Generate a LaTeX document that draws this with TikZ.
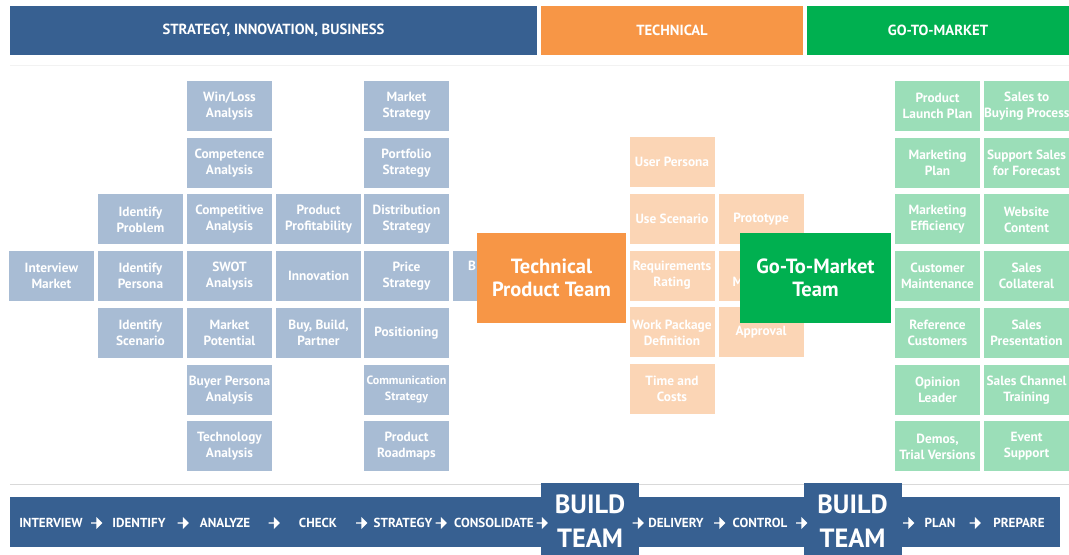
\documentclass[tikz,border=0pt]{standalone}
\usepackage{fontspec}
\setmainfont{PT Sans}
\usetikzlibrary{positioning,shapes.arrows}

\definecolor{hdrblue}{HTML}{376091}
\definecolor{cellblue}{HTML}{A8BCD4}
\definecolor{hdrorange}{HTML}{F79646}
\definecolor{cellorange}{HTML}{FBD5B5}
\definecolor{hdrgreen}{HTML}{00B050}
\definecolor{cellgreen}{HTML}{9BDEB8}

\tikzset{
  cell/.style={rectangle, minimum width=63.75pt, minimum height=37.5pt, inner sep=0pt, align=center, text=white, font=\bfseries\fontsize{10}{12}\selectfont},
  bluecell/.style={cell, fill=cellblue},
  orangecell/.style={cell, fill=cellorange},
  greencell/.style={cell, fill=cellgreen},
  header/.style={rectangle, minimum height=36.75pt, inner sep=0pt, text=white, font=\bfseries\fontsize{11}{13}\selectfont},
  teambox/.style={rectangle, minimum height=67.5pt, inner sep=0pt, align=center, text=white, font=\bfseries\fontsize{15.4}{17.5}\selectfont},
  stage/.style={inner sep=0pt, text=white, font=\bfseries\fontsize{9.8}{11}\selectfont},
  buildbox/.style={rectangle, fill=hdrblue, minimum width=73.5pt, minimum height=57pt, inner sep=0pt, align=center, text=white, font=\bfseries\fontsize{19.8}{26}\selectfont},
  flowtip/.style={single arrow, fill=white, draw=none, minimum height=8.5pt, minimum width=9pt, single arrow head extend=2pt, inner sep=0pt}
}

\begin{document}
\begin{tikzpicture}[x=0.75pt, y=-0.75pt, node distance=4.65pt and 2.625pt]
\useasboundingbox (0,0) rectangle (1069,555);
% headers
\node[header, fill=hdrblue, minimum width=395.25pt] (hstrat) at (273.5,30.5) {STRATEGY, INNOVATION, BUSINESS};
\node[header, fill=hdrorange, minimum width=196.5pt] (htech) at (672,30.5) {TECHNICAL};
\node[header, fill=hdrgreen, minimum width=196.5pt] (hgtm) at (938,30.5) {GO-TO-MARKET};
\draw[black!5] (10,65) -- (1069,65);

% strategy, innovation, business
\node[bluecell] (winloss) at (229.5,106) {Win/Loss\\Analysis};
\node[bluecell, below=of winloss] (compet) {Competence\\Analysis};
\node[bluecell, below=of compet] (compan) {Competitive\\Analysis};
\node[bluecell, below=of compan] (swot) {SWOT\\Analysis};
\node[bluecell, below=of swot] (mpot) {Market\\Potential};
\node[bluecell, below=of mpot] (buyer) {Buyer Persona\\Analysis};
\node[bluecell, below=of buyer] (techan) {Technology\\Analysis};
\node[bluecell, left=of compan] (idprob) {Identify\\Problem};
\node[bluecell, left=of swot] (idpers) {Identify\\Persona};
\node[bluecell, left=of mpot] (idscen) {Identify\\Scenario};
\node[bluecell, left=of idpers] (interview) {Interview\\Market};
\node[bluecell, right=of compan] (profit) {Product\\Profitability};
\node[bluecell, right=of swot] (innov) {Innovation};
\node[bluecell, right=of mpot] (bbp) {Buy, Build,\\Partner};
\node[bluecell] (mstrat) at (406.5,106) {Market\\Strategy};
\node[bluecell, below=of mstrat] (portf) {Portfolio\\Strategy};
\node[bluecell, below=of portf] (distr) {Distribution\\Strategy};
\node[bluecell, below=of distr] (price) {Price\\Strategy};
\node[bluecell, below=of price] (posit) {Positioning};
\node[bluecell, below=of posit, font=\bfseries\fontsize{9}{12}\selectfont] (commun) {Communication\\Strategy};
\node[bluecell, below=of commun] (roadmap) {Product\\Roadmaps};
\node[bluecell, right=of price] (bcase) {};
\node[cell] (bletter) at (472,266) {B};

% technical
\node[orangecell] (upersona) at (672,162.2) {User Persona};
\node[orangecell, below=of upersona] (usescen) {Use Scenario};
\node[orangecell, below=of usescen] (reqrate) {Requirements\\Rating};
\node[orangecell, below=of reqrate] (workpkg) {Work Package\\Definition};
\node[orangecell, below=of workpkg] (timecost) {Time and\\Costs};
\node[orangecell, right=of usescen] (proto) {Prototype};
\node[orangecell, right=of reqrate] (mcell) {};
\node[orangecell, right=of workpkg] (approval) {Approval};
\node[cell] (mletter) at (738,282) {M};

% go-to-market
\node[greencell] (launch) at (937.5,106) {Product\\Launch Plan};
\node[greencell, below=of launch] (mplan) {Marketing\\Plan};
\node[greencell, below=of mplan] (meff) {Marketing\\Efficiency};
\node[greencell, below=of meff] (custm) {Customer\\Maintenance};
\node[greencell, below=of custm] (refc) {Reference\\Customers};
\node[greencell, below=of refc] (opinion) {Opinion\\Leader};
\node[greencell, below=of opinion] (demos) {Demos,\\Trial Versions};
\node[greencell, right=of launch] (buying) {Sales to\\Buying Process};
\node[greencell, right=of mplan] (forecast) {Support Sales\\for Forecast};
\node[greencell, right=of meff] (website) {Website\\Content};
\node[greencell, right=of custm] (collat) {Sales\\Collateral};
\node[greencell, right=of refc] (present) {Sales\\Presentation};
\node[greencell, right=of opinion] (channel) {Sales Channel\\Training};
\node[greencell, right=of demos] (event) {Event\\Support};

% teams
\node[teambox, fill=hdrorange, minimum width=111.75pt] (techteam) at (551.5,278) {Technical\\Product Team};
\node[teambox, fill=hdrgreen, minimum width=113.25pt] (gtmteam) at (815.5,278) {Go-To-Market\\Team};

% process bar
\draw[black!15] (10,484) -- (1069,484);
\fill[hdrblue] (10,497) rectangle (1060,547);
\node[buildbox] (build1) at (590,521) {BUILD\\TEAM};
\node[buildbox] (build2) at (852.5,521) {BUILD\\TEAM};
\node[stage] (sinterview) at (51,523) {INTERVIEW};
\node[stage] (sidentify) at (139,523) {IDENTIFY};
\node[stage] (sanalyze) at (225,523) {ANALYZE};
\node[stage] (scheck) at (318,523) {CHECK};
\node[stage] (sstrategy) at (403,523) {STRATEGY};
\node[stage] (sconsol) at (494,523) {CONSOLIDATE};
\node[stage] (sdelivery) at (676,523) {DELIVERY};
\node[stage] (scontrol) at (760,523) {CONTROL};
\node[stage] (splan) at (940,523) {PLAN};
\node[stage] (sprepare) at (1019,523) {PREPARE};
\foreach \x [count=\i] in {96.5,183,274,361.5,441,542,638,719.5,801.5,908.5,975}
  \node[flowtip] (tip\i) at (\x,523) {};
\end{tikzpicture}
\end{document}
